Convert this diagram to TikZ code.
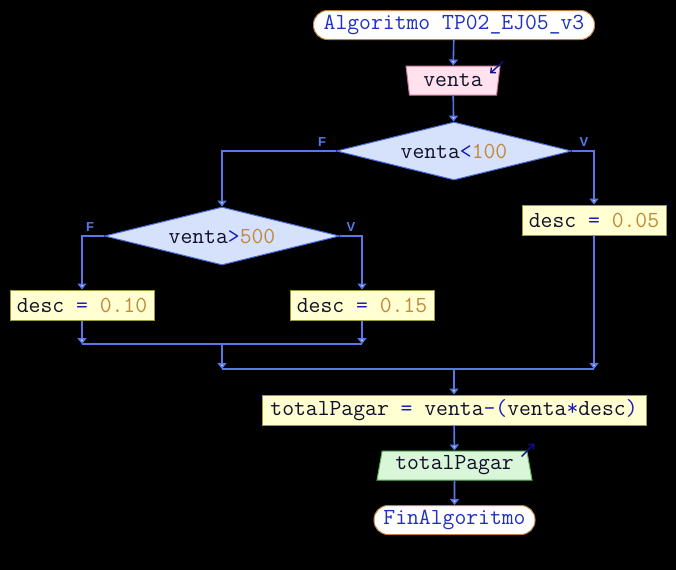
\documentclass[tikz,border=0pt]{standalone}
\usepackage{fontspec}
\setsansfont{Liberation Sans}
\usepackage{tikz}
\usetikzlibrary{arrows.meta,positioning,calc,shapes.geometric}
\definecolor{flow}{HTML}{5878E8}
\definecolor{tipfill}{HTML}{D2DCFF}
\definecolor{decfill}{HTML}{D6E2FC}
\definecolor{decdraw}{HTML}{4A6CD8}
\definecolor{procfill}{HTML}{FFFFD2}
\definecolor{procdraw}{HTML}{9A9A40}
\definecolor{infill}{HTML}{FFE2EE}
\definecolor{indraw}{HTML}{C87898}
\definecolor{outfill}{HTML}{DAF6D8}
\definecolor{outdraw}{HTML}{60B060}
\definecolor{termdraw}{HTML}{C08040}
\definecolor{kw}{HTML}{2030C0}
\definecolor{op}{HTML}{1818C0}
\definecolor{num}{HTML}{C08838}
\definecolor{ident}{HTML}{101028}
\definecolor{ioarrow}{HTML}{10108C}
\newcommand{\opc}[1]{{\color{op}#1}}
\newcommand{\numc}[1]{{\color{num}#1}}

\begin{document}
\begin{tikzpicture}[x=1pt,y=-1pt,
    every node/.style={font=\ttfamily\fontsize{23}{23}\selectfont,text=ident,inner sep=0pt},
    term/.style={draw=termdraw,fill=white,line width=1pt,rounded corners=14pt,
      minimum height=29pt,text=kw},
    proc/.style={draw=procdraw,fill=procfill,line width=1pt,minimum height=30pt},
    cond/.style={diamond,aspect=4.05,draw=decdraw,fill=decfill,line width=1pt,
      minimum width=235pt,minimum height=58pt},
    inbox/.style={trapezium,shape border rotate=180,trapezium left angle=75,
      trapezium right angle=75,trapezium stretches body=true,draw=indraw,
      fill=infill,line width=1pt,minimum height=29pt},
    outbox/.style={trapezium,trapezium left angle=75,trapezium right angle=75,
      trapezium stretches body=true,draw=outdraw,fill=outfill,line width=1pt,
      minimum height=29pt},
    flowline/.style={flow,line width=1.6pt},
    flowarrow/.style={flowline,-{Triangle[width=9pt,length=6pt,fill=tipfill]}},
    branch/.style={text=flow,font=\sffamily\bfseries\fontsize{13}{13}\selectfont},
    ioarr/.style={ioarrow,line width=1.4pt,-{Straight Barb[length=4pt,width=7pt]}}]
  \useasboundingbox[fill=black] (0,0) rectangle (676,570);

  \node[term,minimum width=281pt] (start) at (454,25) {Algoritmo TP02\_EJ05\_v3};
  \node[inbox,minimum width=94pt] (in) at (453,80.5) {venta};
  \draw[ioarr] ([shift={(50,-4)}]in.north) -- ([shift={(37,8)}]in.north);

  \node[cond] (d1) at (454,151) {venta\opc{<}\numc{100}};
  \node[branch] at ([shift={(-14,-9)}]d1.west) {F};
  \node[branch] at ([shift={(12,-9)}]d1.east) {V};

  \node[cond] (d2) at (222,236) {venta\opc{>}\numc{500}};
  \node[branch] at ([shift={(-14,-9)}]d2.west) {F};
  \node[branch] at ([shift={(11,-9)}]d2.east) {V};

  \node[proc,minimum width=144pt] (b05) at (594,220) {desc \opc{=} \numc{0.05}};
  \node[proc,minimum width=144pt] (b10) at (82,305) {desc \opc{=} \numc{0.10}};
  \node[proc,minimum width=144pt] (b15) at (362,305) {desc \opc{=} \numc{0.15}};

  \coordinate (j1) at (222,344);
  \coordinate (j2) at (222,369);

  \node[proc,minimum width=384pt] (calc) at (454,410)
    {totalPagar \opc{=} venta\opc{-(}venta\opc{*}desc\opc{)}};
  \node[outbox,minimum width=155pt] (out) at (454.5,465.5) {totalPagar};
  \draw[ioarr] ([shift={(67,6)}]out.north) -- ([shift={(80,-7)}]out.north);
  \node[term,minimum width=161pt] (end) at (454.5,520) {FinAlgoritmo};

  \draw[flowarrow] (start) -- (in);
  \draw[flowarrow] (in) -- (d1);
  \draw[flowarrow] (d1.west) -| (d2.north);
  \draw[flowarrow] (d1.east) -| (b05.north);
  \draw[flowarrow] (d2.west) -| (b10.north);
  \draw[flowarrow] (d2.east) -| (b15.north);
  \draw[flowarrow] (b10.south) -- (b10.south |- j1);
  \draw[flowarrow] (b15.south) -- (b15.south |- j1);
  \draw[flowline] (b10.south |- j1) -- (b15.south |- j1);
  \draw[flowarrow] (j1) -- (j2);
  \draw[flowline] (j2) -- (b05.south |- j2);
  \draw[flowarrow] (b05.south) -- (b05.south |- j2);
  \draw[flowarrow] (calc.north |- j2) -- (calc.north);
  \draw[flowarrow] (calc) -- (out);
  \draw[flowarrow] (out) -- (end);
\end{tikzpicture}
\end{document}
